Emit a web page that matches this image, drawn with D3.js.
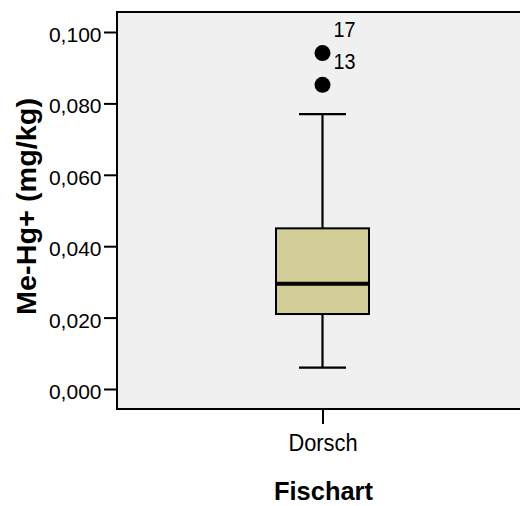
<!DOCTYPE html>
<html>
<head>
<meta charset="utf-8">
<script src="https://cdn.jsdelivr.net/npm/d3@7"></script>
<style>
  body { margin: 0; background: #fff; }
  svg { display: block; font-family: "Liberation Sans", Arial, sans-serif; }
</style>
</head>
<body>
<svg id="chart" width="520" height="506"></svg>
<script>
const categories = ["Dorsch"];
const q1 = [0.021];
const median = [0.0295];
const q3 = [0.045];
const whiskerLow = [0.006];
const whiskerHigh = [0.077];
const outlierValues = [0.0941, 0.0852];
const outlierIds = ["17", "13"];
const yTicks = [0, 0.02, 0.04, 0.06, 0.08, 0.1];

const svg = d3.select("#chart");
const plot = { left: 117, top: 12, right: 530, bottom: 409 };

const y = d3.scaleLinear().domain([0, 0.1]).range([389, 32]);
const x = d3.scalePoint().domain(categories).range([322.5, 322.5]);
const fmt = (v) => d3.format(".3f")(v).replace(".", ",");

svg.append("rect")
  .attr("x", plot.left)
  .attr("y", plot.top)
  .attr("width", plot.right - plot.left)
  .attr("height", plot.bottom - plot.top)
  .attr("fill", "#f0f0f0")
  .attr("stroke", "#000")
  .attr("stroke-width", 2);

const yAxis = svg.append("g")
  .attr("transform", `translate(${plot.left},0)`)
  .call(d3.axisLeft(y).tickValues(yTicks).tickFormat(fmt).tickSize(13).tickPadding(2.5));
yAxis.select(".domain").remove();
yAxis.selectAll(".tick line").attr("stroke", "#000").attr("stroke-width", 2);
yAxis.selectAll(".tick text")
  .attr("font-size", 21)
  .attr("dy", "0.45em")
  .attr("font-family", "Liberation Sans, Arial, sans-serif")
  .attr("fill", "#000");

const xAxis = svg.append("g")
  .attr("transform", `translate(0,${plot.bottom})`)
  .call(d3.axisBottom(x).tickSize(15).tickPadding(0));
xAxis.select(".domain").remove();
xAxis.selectAll(".tick line").attr("stroke", "#000").attr("stroke-width", 2);
xAxis.selectAll(".tick text")
  .attr("y", 42)
  .attr("dy", null)
  .attr("font-size", 23)
  .attr("textLength", 69)
  .attr("lengthAdjust", "spacingAndGlyphs")
  .attr("font-family", "Liberation Sans, Arial, sans-serif")
  .attr("fill", "#000");

const boxW = 93;
const capW = 47;
const g = svg.append("g");
categories.forEach((c, i) => {
  const cx = x(c);
  g.append("line")
    .attr("x1", cx).attr("x2", cx)
    .attr("y1", y(whiskerHigh[i])).attr("y2", y(whiskerLow[i]))
    .attr("stroke", "#000").attr("stroke-width", 2.2);
  [whiskerLow[i], whiskerHigh[i]].forEach((v) => {
    g.append("line")
      .attr("x1", cx - capW / 2).attr("x2", cx + capW / 2)
      .attr("y1", y(v)).attr("y2", y(v))
      .attr("stroke", "#000").attr("stroke-width", 2.2);
  });
  g.append("rect")
    .attr("x", cx - boxW / 2)
    .attr("y", y(q3[i]))
    .attr("width", boxW)
    .attr("height", y(q1[i]) - y(q3[i]))
    .attr("fill", "#d3ce97")
    .attr("stroke", "#000")
    .attr("stroke-width", 2);
  g.append("line")
    .attr("x1", cx - boxW / 2).attr("x2", cx + boxW / 2)
    .attr("y1", y(median[i])).attr("y2", y(median[i]))
    .attr("stroke", "#000").attr("stroke-width", 4);

  outlierValues.forEach((v, j) => {
    g.append("circle")
      .attr("cx", cx)
      .attr("cy", y(v))
      .attr("r", 8)
      .attr("fill", "#000");
    g.append("text")
      .attr("x", cx + 11)
      .attr("y", y(v) - 16)
      .attr("font-size", 22)
      .attr("textLength", 22)
      .attr("lengthAdjust", "spacingAndGlyphs")
      .attr("fill", "#000")
      .text(outlierIds[j]);
  });
});

svg.append("text")
  .attr("x", 323.5)
  .attr("y", 500)
  .attr("text-anchor", "middle")
  .attr("font-size", 26)
  .attr("font-weight", "bold")
  .attr("textLength", 99)
  .attr("lengthAdjust", "spacingAndGlyphs")
  .text("Fischart");

svg.append("text")
  .attr("transform", "translate(36,206.5) rotate(-90)")
  .attr("text-anchor", "middle")
  .attr("font-size", 28)
  .attr("font-weight", "bold")
  .attr("textLength", 217)
  .attr("lengthAdjust", "spacingAndGlyphs")
  .text("Me-Hg+ (mg/kg)");
</script>
</body>
</html>
